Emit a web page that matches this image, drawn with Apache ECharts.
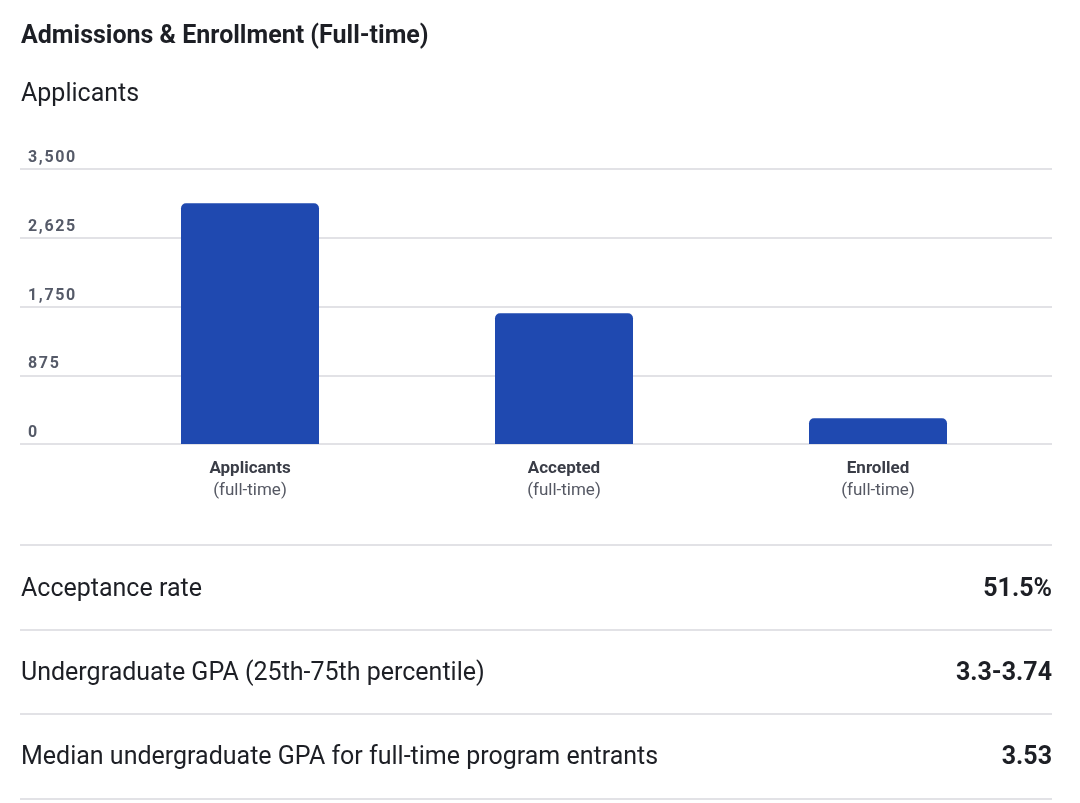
<!DOCTYPE html>
<html>
<head>
<meta charset="utf-8">
<script src="https://cdn.jsdelivr.net/npm/echarts@6/dist/echarts.min.js"></script>
<style>
html,body{margin:0;padding:0;background:#fff;}
#chart{width:1080px;height:803px;}
</style>
</head>
<body>
<div id="chart"></div>
<script>
const titleText = 'Admissions & Enrollment (Full-time)';
const subtitleText = 'Applicants';
const categories = ['Applicants', 'Accepted', 'Enrolled'];
const categorySub = ['(full-time)', '(full-time)', '(full-time)'];
const values = [3063, 1663, 327];
const yTicks = [0, 875, 1750, 2625, 3500];
const statLabels = ['Acceptance rate', 'Undergraduate GPA (25th-75th percentile)', 'Median undergraduate GPA for full-time program entrants'];
const statValues = ['51.5%', '3.3-3.74', '3.53'];

const FONT = 'Roboto, "Noto Sans", sans-serif';
const chart = echarts.init(document.getElementById('chart'), null, {renderer: 'canvas'});

const yMin = yTicks[0], yMax = yTicks[yTicks.length - 1], yInt = yTicks[1] - yTicks[0];

const graphics = [
  {type: 'text', x: 21, y: 37, style: {text: titleText, font: 'bold 25px ' + FONT, fill: '#1d1f25', verticalAlign: 'middle'}},
  {type: 'text', x: 21, y: 95, style: {text: subtitleText, font: '25px ' + FONT, fill: '#1d1f25', verticalAlign: 'middle'}}
];
const sepY = [545, 630, 714, 799];
sepY.forEach(y => graphics.push({type: 'line', shape: {x1: 20, y1: y, x2: 1052, y2: y}, style: {stroke: '#d9d9de', lineWidth: 1.5}}));
statLabels.forEach((t, i) => {
  const cy = 590 + i * 84;
  graphics.push({type: 'text', x: 21, y: cy, style: {text: t, font: '25px ' + FONT, fill: '#1d1f25', verticalAlign: 'middle', align: 'left'}});
  graphics.push({type: 'text', x: 1052, y: cy, style: {text: statValues[i], font: 'bold 25px ' + FONT, fill: '#1d1f25', verticalAlign: 'middle', align: 'right'}});
});

const spaced = s => s.split('').join('\u200A');

const option = {
  animation: false,
  backgroundColor: '#ffffff',
  grid: [
    {left: 20, right: 28, top: 169, bottom: 359},
    {left: 93, right: 45, top: 169, bottom: 359}
  ],
  xAxis: [
    {type: 'value', gridIndex: 0, show: false, min: 0, max: 1},
    {type: 'category', gridIndex: 1, data: categories,
     axisLine: {show: false}, axisTick: {show: false},
     axisLabel: {
       margin: 14,
       formatter: (v, i) => '{a|' + v + '}\n{b|' + categorySub[i] + '}',
       rich: {
         a: {fontFamily: FONT, fontSize: 17, fontWeight: 'bold', color: '#3a3d47', lineHeight: 22},
         b: {fontFamily: FONT, fontSize: 17, color: '#555863', lineHeight: 22}
       }
     }}
  ],
  yAxis: [
    {type: 'value', gridIndex: 0, min: yMin, max: yMax, interval: yInt,
     axisLine: {show: false}, axisTick: {show: false},
     splitLine: {show: true, lineStyle: {color: '#d9d9de', width: 1.5}},
     axisLabel: {inside: true, margin: 8, verticalAlign: 'bottom', padding: [0, 0, 3, 0],
       fontFamily: FONT, fontSize: 16, fontWeight: 'bold', color: '#555a68',
       formatter: v => spaced(v.toLocaleString('en-US'))}},
    {type: 'value', gridIndex: 1, min: yMin, max: yMax, interval: yInt, show: false, splitLine: {show: false}}
  ],
  series: [{
    type: 'bar', xAxisIndex: 1, yAxisIndex: 1, data: values, barWidth: 138,
    itemStyle: {color: '#1f49b0', borderRadius: [5, 5, 0, 0]}
  }],
  graphic: graphics
};
chart.setOption(option);
</script>
</body>
</html>
